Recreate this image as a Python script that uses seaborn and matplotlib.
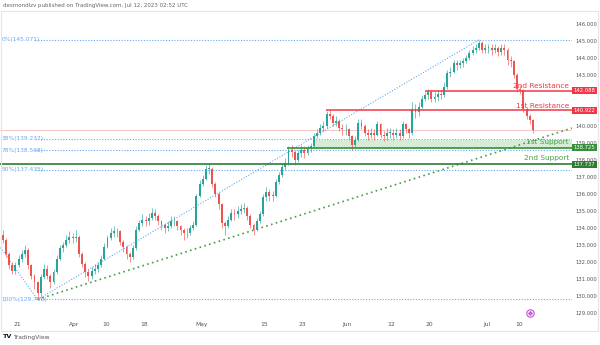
import numpy as np
import pandas as pd
import matplotlib
matplotlib.use("Agg")
import matplotlib.pyplot as plt
import matplotlib.transforms as mtrans
from matplotlib.patches import Rectangle
import seaborn as sns

# ---------------- data (12h candles, USD/JPY style) ----------------
first_open = 133.6
closes = [133.3,132.5,131.8,131.5,131.8,132.2,132.5,132.7,131.8,131.2,
          130.8,130.2,131.1,131.6,131.2,130.8,131.4,132.2,132.8,133.0,
          133.3,133.5,133.4,133.5,132.5,131.9,131.4,131.2,131.5,131.6,
          131.8,132.2,132.9,133.4,133.7,133.8,133.8,133.2,132.9,132.5,
          132.3,132.8,133.9,134.3,134.5,134.4,134.6,134.9,134.7,134.4,
          134.2,134.0,134.1,134.4,134.4,134.1,133.9,133.7,133.7,134.0,
          134.2,135.9,136.6,136.9,137.5,137.5,136.6,136.0,135.4,134.3,
          134.1,134.5,134.9,134.8,135.0,135.1,135.2,134.7,134.2,133.9,
          134.4,134.8,135.8,136.1,135.9,135.9,136.7,137.1,137.6,137.8,
          138.6,138.5,138.0,138.4,138.6,138.4,138.7,138.8,139.4,139.6,
          139.9,140.0,140.7,140.6,140.2,140.3,139.9,139.8,139.8,139.4,
          138.9,139.2,140.2,140.0,139.6,139.5,139.6,139.5,140.1,139.5,
          139.4,139.6,139.6,139.5,139.6,139.4,140.1,139.8,139.6,141.0,
          140.8,141.1,141.6,141.8,142.0,141.6,141.7,141.9,141.8,142.3,
          143.1,143.2,143.7,143.6,143.7,143.8,144.0,144.3,144.5,144.6,
          144.9,144.5,144.6,144.6,144.5,144.6,144.35,144.6,144.5,143.9,
          143.8,143.0,142.2,142.1,141.0,140.6,140.35,139.75]
highs = [133.9,133.4,132.6,132.0,132.0,132.4,132.7,133.0,132.8,131.9,
         131.3,130.9,131.3,131.9,131.8,131.3,131.6,132.4,133.0,133.2,
         133.6,133.8,133.7,133.9,133.6,132.6,132.0,131.6,131.7,131.9,
         132.0,132.4,133.1,133.6,134.0,134.1,134.0,133.9,133.3,133.0,
         132.6,133.0,134.1,134.5,134.8,134.7,134.9,135.2,135.1,134.8,
         134.5,134.3,134.4,134.7,134.7,134.5,134.2,134.0,134.0,134.2,
         134.4,136.0,136.8,137.1,137.7,137.8,137.6,136.7,136.1,135.5,
         134.4,134.7,135.1,135.1,135.3,135.4,135.5,135.3,134.8,134.3,
         134.6,135.0,136.0,136.4,136.3,136.2,136.9,137.3,137.8,138.1,
         138.8,138.9,138.6,138.6,138.9,138.8,138.9,139.0,139.6,139.8,
         140.1,140.3,140.9,140.95,140.7,140.6,140.4,140.1,140.1,139.9,
         139.5,139.4,140.4,140.4,140.1,139.8,139.9,139.8,140.3,140.2,
         139.7,139.9,139.9,139.8,139.9,139.8,140.3,140.2,139.9,141.4,
         141.3,141.4,141.8,142.0,142.2,142.1,142.0,142.1,142.1,142.6,
         143.3,143.5,143.9,143.9,143.9,144.0,144.2,144.5,144.7,144.8,
         145.07,145.0,144.8,144.8,144.8,144.8,144.7,144.8,144.8,144.6,
         144.1,143.9,143.1,142.4,142.2,141.1,140.7,140.4]
lows = [133.1,132.3,131.6,131.3,131.3,131.7,132.0,132.3,131.6,131.0,
        130.4,129.8,130.0,131.0,131.0,130.5,130.7,131.3,132.1,132.6,
        132.9,133.1,133.1,133.2,132.3,131.7,131.1,130.9,131.0,131.3,
        131.4,131.7,132.1,132.8,133.3,133.5,133.5,133.0,132.6,132.2,
        132.0,132.2,132.7,133.8,134.1,134.1,134.2,134.5,134.5,134.2,
        133.9,133.7,133.8,134.0,134.1,133.9,133.6,133.3,133.4,133.6,
        133.9,134.1,135.8,136.5,136.8,137.2,136.4,135.8,135.1,134.0,
        133.6,134.0,134.4,134.5,134.6,134.8,134.9,134.5,134.0,133.6,
        133.8,134.3,134.7,135.6,135.6,135.6,135.8,136.6,137.0,137.4,
        137.7,138.2,137.7,137.9,138.2,138.1,138.3,138.5,138.7,139.3,
        139.5,139.7,139.9,140.4,140.0,140.0,139.7,139.5,139.5,139.2,
        138.6,138.7,139.1,139.8,139.4,139.2,139.3,139.2,139.4,139.3,
        139.1,139.2,139.3,139.2,139.3,139.2,139.3,139.6,139.3,139.5,
        140.5,140.6,141.0,141.5,141.6,141.4,141.4,141.5,141.6,141.7,
        142.2,142.9,143.1,143.3,143.4,143.5,143.7,143.9,144.2,144.3,
        144.5,144.3,144.3,144.3,144.2,144.3,144.1,144.2,144.2,143.6,
        143.5,142.8,142.0,141.9,140.8,140.4,140.1,139.6]

tick_days = [0, 9, 14, 20, 29, 39, 45, 52, 59, 65, 74, 79]
tick_labels = ["21", "Apr", "10", "18", "May", "15", "23", "Jun", "12", "20", "Jul", "10"]
price_ticks = [129, 130, 131, 132, 133, 134, 135, 136, 137, 138, 139, 140, 143, 144, 145, 146]

resistance_levels = [142.088, 140.922]
resistance_names = ["2nd Resistance", "1st Resistance"]
resistance_start = [64.3, 48.7]
support_levels = [138.725, 137.737]
support_names = ["1st Support", "2nd Support"]
support_start = [42.5, -2.7]
support_zone_top = 139.15
support_zone_start = 46.6

fib_levels = [145.071, 139.237, 138.568, 137.435, 129.798]
fib_labels = ["0%(145.071)", "38%(139.237)", "78%(138.568)", "50%(137.435)", "100%(129.798)"]
swing_low_day, swing_low = 3.25, 129.798
swing_high_day, swing_high = 72.75, 145.071
trend_end_day, trend_end = 87.4, 139.88
desc_start_day, desc_start = -2.6, 132.85
last_price = 139.75

# ---------------- style ----------------
sns.set_theme(style="white")
plt.rcParams['font.family'] = ['DejaVu Sans']

UP = "#26a69a"
DOWN = "#ef5350"
FIB = "#64a9f0"
RED = "#f23645"

fig = plt.figure(figsize=(6.0, 3.45), dpi=100)
W, H = 600.0, 345.0
ax = fig.add_axes([0.0, 1 - 318 / H, 572 / W, (318 - 12) / H])

n = len(closes)
xs = -2.25 + 0.5 * np.arange(n)
opens = [first_open] + closes[:-1]
df = pd.DataFrame({"x": xs, "open": opens, "close": closes, "high": highs, "low": lows})
df["up"] = df["close"] >= df["open"]
df["color"] = np.where(df["up"], UP, DOWN)
df["bottom"] = df[["open", "close"]].min(axis=1)
df["height"] = (df["close"] - df["open"]).abs().clip(lower=0.03)

XMIN, XMAX = -2.677, 87.4
YMIN, YMAX = 128.706, 146.706
ax.set_xlim(XMIN, XMAX)
ax.set_ylim(YMIN, YMAX)

# current price line
ax.axhline(last_price, color="#f7c6c6", lw=0.7, zorder=1)

# support zone
ax.add_patch(Rectangle((support_zone_start, support_levels[0]), XMAX - support_zone_start,
                       support_zone_top - support_levels[0], facecolor="#d7ecd5",
                       edgecolor="none", zorder=0.5))

# fib lines + labels
for lvl, lab in zip(fib_levels, fib_labels):
    ax.hlines(lvl, 2.83, XMAX, colors=FIB, linestyles=(0, (1, 1.5)), lw=0.8, zorder=1)
    ax.text(-2.45, lvl, lab, color=FIB, fontsize=4.2, va="center", ha="left", zorder=3)

# trend lines
sns.lineplot(x=[swing_low_day, swing_high_day], y=[swing_low, swing_high], ax=ax,
             color=FIB, lw=0.8, linestyle=(0, (1, 1.5)), zorder=1)
sns.lineplot(x=[desc_start_day, swing_low_day], y=[desc_start, swing_low], ax=ax,
             color=FIB, lw=0.8, linestyle=(0, (1, 1.5)), zorder=1)
sns.lineplot(x=[swing_low_day, trend_end_day], y=[swing_low, trend_end], ax=ax,
             color="#43a047", lw=1.2, linestyle=(0, (1, 2)), zorder=1)

# candles
ax.vlines(df["x"], df["low"], df["high"], colors=df["color"], lw=0.6, alpha=0.75, zorder=2)
ax.bar(df["x"], df["height"], bottom=df["bottom"], width=0.3, color=df["color"],
       linewidth=0, zorder=2.5)

# resistance / support lines and labels
trans_tag = mtrans.blended_transform_factory(ax.transAxes, ax.transData)
for lvl, name, x0 in zip(resistance_levels, resistance_names, resistance_start):
    ax.hlines(lvl, x0, XMAX, colors=RED, lw=1.1, zorder=3)
    ax.text(86.9, lvl + 0.27, name, color=RED, fontsize=5.3, ha="right", va="center", zorder=4)
    ax.text(1.003, lvl, f"{lvl:.3f}", transform=trans_tag, color="white", fontsize=3.8,
            va="center", ha="left", clip_on=False,
            bbox=dict(boxstyle="square,pad=0.25", fc=RED, ec="none"))
sup_colors = ["#388e3c", "#2e7d32"]
for lvl, name, x0, col in zip(support_levels, support_names, support_start, sup_colors):
    ax.hlines(lvl, x0, XMAX, colors=col, lw=1.2, zorder=3)
    ax.text(86.9, lvl + 0.36, name, color="#43a047", fontsize=5.3, ha="right", va="center", zorder=4)
    ax.text(1.003, lvl, f"{lvl:.3f}", transform=trans_tag, color="white", fontsize=3.8,
            va="center", ha="left", clip_on=False,
            bbox=dict(boxstyle="square,pad=0.25", fc=col, ec="none"))

# event icon
ax.scatter([80.8], [129.0], s=28, facecolor="white", edgecolor="#d05ce3", lw=0.9, zorder=5)
ax.scatter([80.8], [129.0], s=3, marker="D", color="#d05ce3", zorder=6)

# axes
ax.set_xticks(tick_days)
ax.set_xticklabels(tick_labels)
ax.set_yticks(price_ticks)
ax.set_yticklabels([f"{p:.3f}" for p in price_ticks])
ax.yaxis.tick_right()
ax.tick_params(axis="y", length=0, pad=2.2, labelsize=3.8, labelcolor="#555555")
ax.tick_params(axis="x", length=0, pad=3, labelsize=4.3, labelcolor="#555555")
for s in ax.spines.values():
    s.set_visible(False)
ax.grid(False)
ax.set_xlabel("")
ax.set_ylabel("")

# panel frame
fig.patches.append(Rectangle((1 / W, 1 - 331 / H), 597 / W, 320 / H, transform=fig.transFigure,
                             fill=False, ec="#e3e5ea", lw=0.8))

# header / footer
fig.text(3 / W, 1 - 5 / H, "desmondlzv published on TradingView.com, Jul 12, 2023 02:52 UTC",
         fontsize=4.0, color="#666666", va="center", ha="left")
fig.text(3 / W, 1 - 337 / H, "TV", fontsize=4.6, fontweight="bold", color="#131722",
         va="center", ha="left")
fig.text(13 / W, 1 - 337 / H, "TradingView", fontsize=4.3, color="#555555",
         va="center", ha="left")

fig.savefig("out.png", dpi=100, facecolor="white")
